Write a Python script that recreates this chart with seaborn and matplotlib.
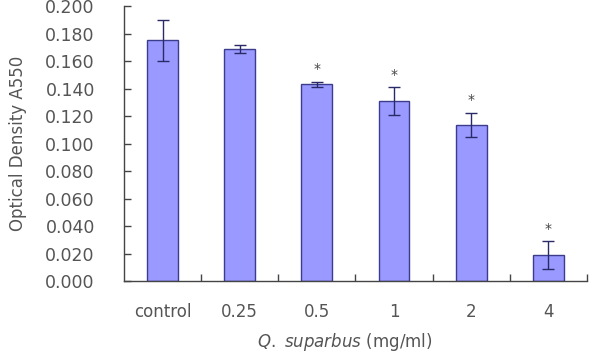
import numpy as np
import pandas as pd
import matplotlib
matplotlib.use("Agg")
import matplotlib.pyplot as plt
import seaborn as sns

# values
doses = ["control", "0.25", "0.5", "1", "2", "4"]
od_mean = [0.175, 0.169, 0.143, 0.131, 0.1135, 0.019]
od_err = [0.015, 0.003, 0.002, 0.010, 0.009, 0.010]
signif = ["", "", "*", "*", "*", "*"]

df = pd.DataFrame({"dose": doses, "od": od_mean})

sns.set_style("ticks")
plt.rcParams["font.family"] = ["DejaVu Sans"]

fig = plt.figure(figsize=(6.05, 3.54), dpi=100)
ax = fig.add_axes([0.205, 0.206, 0.765, 0.777])

sns.barplot(data=df, x="dose", y="od", color="#9999ff", width=0.4,
            edgecolor="#3c3c8c", linewidth=1.0, saturation=1, ax=ax)

x = np.arange(len(doses))
ax.errorbar(x, od_mean, yerr=od_err, fmt="none", ecolor="#2a2a66",
            elinewidth=1.0, capsize=4, capthick=1.0)

for xi, m, e, s in zip(x, od_mean, od_err, signif):
    if s:
        ax.text(xi, m + e + 0.004, s, ha="center", va="bottom",
                fontsize=10, color="#444444")

ax.set_ylim(0, 0.2)
ax.set_xlim(-0.5, len(doses) - 0.5)
ax.set_yticks(np.arange(0, 0.201, 0.02))
ax.set_yticklabels([f"{v:.3f}" for v in np.arange(0, 0.201, 0.02)])
ax.set_xticks(np.arange(0.5, len(doses) - 0.4, 1), minor=True)

ax.tick_params(axis="y", left=True, direction="in", length=5, width=1,
               color="#444444", labelsize=12.5, labelcolor="#555555", pad=21)
ax.tick_params(axis="x", which="major", length=0, labelsize=12,
               labelcolor="#555555", pad=16)
ax.tick_params(axis="x", which="minor", bottom=True, direction="in", length=5,
               width=1, color="#444444")

for side in ["top", "right"]:
    ax.spines[side].set_visible(False)
for side in ["left", "bottom"]:
    ax.spines[side].set_color("#444444")
    ax.spines[side].set_linewidth(1.0)

ax.set_ylabel("Optical Density A550", fontsize=12, color="#555555", labelpad=13)
ax.set_xlabel("")
fig.text(0.57, 0.004, r"$\it{Q.\ suparbus}$ (mg/ml)", ha="center", va="bottom",
         fontsize=12, color="#555555")

fig.savefig("out.png", dpi=100)
